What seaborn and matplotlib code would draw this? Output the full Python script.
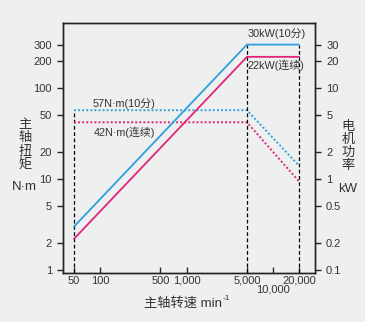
import matplotlib
matplotlib.use("Agg")
import matplotlib.pyplot as plt
import seaborn as sns
import pandas as pd
from matplotlib.ticker import FixedLocator, FixedFormatter, NullLocator

sns.set_style("ticks")
plt.rcParams['font.family'] = ['Liberation Sans', 'Noto Sans CJK SC', 'DejaVu Sans']
plt.rcParams['axes.unicode_minus'] = False

# ---- data ----
speed = [50, 5000, 20000]                 # min^-1
power_10min_kw = [0.3, 30, 30]            # kW, solid blue
power_cont_kw = [0.22, 22, 22]            # kW, solid pink
torque_10min = [57, 57, 14]               # N·m, dotted blue
torque_cont = [42, 42, 9.4]               # N·m, dotted pink

x_major = [50, 100, 500, 1000, 5000, 20000]
x_major_labels = ["50", "100", "500", "1,000", "5,000", "20,000"]
x_minor = [10000]
x_minor_labels = ["10,000"]
y_left_ticks = [1, 2, 5, 10, 20, 50, 100, 200, 300]
y_left_labels = ["1", "2", "5", "10", "20", "50", "100", "200", "300"]
y_right_ticks = [0.1, 0.2, 0.5, 1, 2, 5, 10, 20, 30]
y_right_labels = ["0.1", "0.2", "0.5", "1", "2", "5", "10", "20", "30"]

BLUE = "#2d9fe0"
PINK = "#e2237a"
BG = "#eef0ef"
TXT = "#333333"

fig = plt.figure(figsize=(3.65, 3.22), dpi=100, facecolor=BG)
ax = fig.add_axes([63/365, 1-273/322, (315-63)/365, (273-23)/322])
ax.set_facecolor(BG)
ax.set_xscale("log")
ax.set_yscale("log")
ax.set_xlim(37.3, 30600)
ax.set_ylim(0.927, 518)

ax2 = ax.twinx()
ax2.set_yscale("log")
ax2.set_ylim(0.0927, 51.8)

df_t = pd.DataFrame({"speed": speed * 2,
                     "val": torque_10min + torque_cont,
                     "s": ["10"] * 3 + ["c"] * 3})
df_p = pd.DataFrame({"speed": speed * 2,
                     "val": power_10min_kw + power_cont_kw,
                     "s": ["10"] * 3 + ["c"] * 3})

# vertical dashed reference lines
ax.vlines([speed[0]], 0.927, torque_10min[0], colors="black", linestyles=(0, (3, 2)), lw=0.9)
ax2.vlines([speed[1], speed[2]], 0.0927, power_10min_kw[1], colors="black", linestyles=(0, (3, 2)), lw=0.9)

sns.lineplot(data=df_t, x="speed", y="val", hue="s", palette={"10": BLUE, "c": PINK},
             ax=ax, legend=False, lw=1.4, linestyle=(0, (1, 1.1)))
sns.lineplot(data=df_p, x="speed", y="val", hue="s", palette={"10": BLUE, "c": PINK},
             ax=ax2, legend=False, lw=1.3)

for a in (ax, ax2):
    a.set_xlabel("")
    a.set_ylabel("")
    for sp in a.spines.values():
        sp.set_visible(True)
        sp.set_color("#222222")
        sp.set_linewidth(1.0)

ax.xaxis.set_major_locator(FixedLocator(x_major))
ax.xaxis.set_major_formatter(FixedFormatter(x_major_labels))
ax.xaxis.set_minor_locator(FixedLocator(x_minor))
ax.xaxis.set_minor_formatter(FixedFormatter(x_minor_labels))
ax.tick_params(axis="x", which="major", direction="in", length=4, width=1, pad=2,
               labelsize=8, labelcolor=TXT)
ax.tick_params(axis="x", which="minor", direction="in", length=4, width=1, pad=8,
               labelsize=8, labelcolor=TXT)

ax.yaxis.set_major_locator(FixedLocator(y_left_ticks))
ax.yaxis.set_major_formatter(FixedFormatter(y_left_labels))
ax.yaxis.set_minor_locator(NullLocator())
ax.tick_params(axis="y", which="major", direction="out", length=4, width=1, pad=4,
               labelsize=8, labelcolor=TXT)

ax2.yaxis.set_major_locator(FixedLocator(y_right_ticks))
ax2.yaxis.set_major_formatter(FixedFormatter(y_right_labels))
ax2.yaxis.set_minor_locator(NullLocator())
ax2.tick_params(axis="y", which="major", direction="out", length=4, width=1, pad=4,
                labelsize=8, labelcolor=TXT)

fs = 7.8
ax.text(83, 68, "57N·m(10分)", fontsize=fs, color=TXT, va="center", ha="left")
ax.text(85, 33, "42N·m(连续)", fontsize=fs, color=TXT, va="center", ha="left")
ax.text(5140, 392, "30kW(10分)", fontsize=fs, color=TXT, va="center", ha="left")
ax.text(5140, 179, "22kW(连续)", fontsize=fs, color=TXT, va="center", ha="left")

# axis titles (vertical stacked characters)
left_title = "主轴扭矩"
right_title = "电机功率"
left_ys = [125, 138, 152, 165]
right_ys = [127, 140, 153, 166]
for ch, yy in zip(left_title, left_ys):
    fig.text(25/365, 1-yy/322, ch, fontsize=9.5, color=TXT, ha="center", va="center")
for ch, yy in zip(right_title, right_ys):
    fig.text(348/365, 1-yy/322, ch, fontsize=9.5, color=TXT, ha="center", va="center")
fig.text(24/365, 1-187/322, "N·m", fontsize=9.5, color=TXT, ha="center", va="center")
fig.text(348/365, 1-189/322, "kW", fontsize=9.5, color=TXT, ha="center", va="center")

xl = fig.text(183/365, 1-303/322, "主轴转速 min", fontsize=9.5, color=TXT, ha="center", va="center")
fig.canvas.draw()
bb = xl.get_window_extent()
fig.text(bb.x1/365 + 0.002, (bb.y1 - 5)/322, "-1", fontsize=6, color=TXT, ha="left", va="bottom")

fig.savefig("out.png", dpi=100, facecolor=BG)
